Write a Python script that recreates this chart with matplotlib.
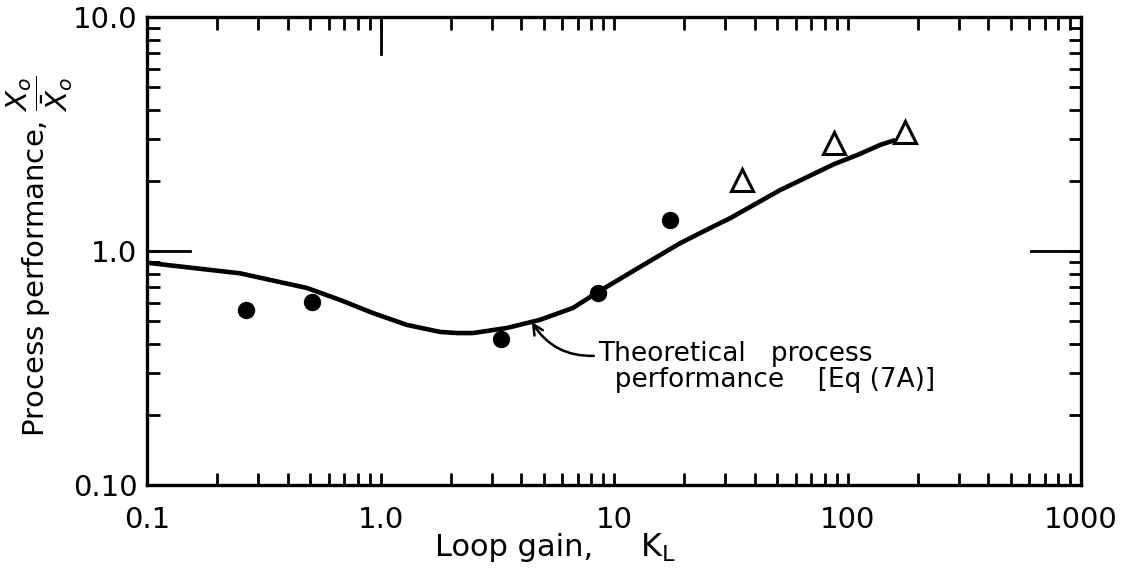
import matplotlib
matplotlib.use("Agg")
import matplotlib.pyplot as plt
from matplotlib.ticker import LogLocator, NullFormatter, FixedLocator, FixedFormatter

# Theoretical process performance, Eq (7A)
curve_gain = [0.1, 0.25, 0.484, 0.671, 0.928, 1.30, 1.80, 2.13, 2.49, 3.48, 4.82, 6.67,
              8.54, 12.9, 19.2, 26.5, 31.4, 51.4, 87.5, 110, 138, 160]
curve_perf = [0.891, 0.803, 0.695, 0.618, 0.543, 0.483, 0.451, 0.446, 0.446, 0.469, 0.508, 0.571,
              0.668, 0.854, 1.08, 1.27, 1.38, 1.82, 2.35, 2.57, 2.84, 2.98]

# Measured points
dot_gain = [0.265, 0.511, 3.28, 8.54, 17.4]
dot_perf = [0.560, 0.604, 0.421, 0.662, 1.357]
tri_gain = [35.2, 87.5, 176]
tri_perf = [2.01, 2.89, 3.22]

x_ticks = [0.1, 1.0, 10, 100, 1000]
x_labels = ["0.1", "1.0", "10", "100", "1000"]
y_ticks = [0.1, 1.0, 10.0]
y_labels = ["0.10", "1.0", "10.0"]

plt.rcParams["font.family"] = ["DejaVu Sans"]
plt.rcParams["mathtext.fontset"] = "dejavusans"

fig = plt.figure(figsize=(11.32, 5.76), dpi=100)
ax = fig.add_axes([147 / 1132, 91 / 576, 934 / 1132, 468 / 576])

ax.set_xscale("log")
ax.set_yscale("log")
ax.set_xlim(0.1, 1000)
ax.set_ylim(0.1, 10)

ax.plot(curve_gain, curve_perf, color="black", lw=3.3, solid_joinstyle="round",
        solid_capstyle="butt")
ax.plot(dot_gain, dot_perf, "o", color="black", ms=11.5)
ax.plot(tri_gain, tri_perf, "^", mfc="white", mec="black", mew=2.2, ms=15.5)

for s in ax.spines.values():
    s.set_linewidth(2.4)

ax.xaxis.set_major_locator(FixedLocator(x_ticks))
ax.xaxis.set_major_formatter(FixedFormatter(x_labels))
ax.yaxis.set_major_locator(FixedLocator(y_ticks))
ax.yaxis.set_major_formatter(FixedFormatter(y_labels))
ax.xaxis.set_minor_locator(LogLocator(base=10, subs=range(2, 10), numticks=20))
ax.yaxis.set_minor_locator(LogLocator(base=10, subs=range(2, 10), numticks=20))
ax.xaxis.set_minor_formatter(NullFormatter())
ax.yaxis.set_minor_formatter(NullFormatter())

ax.tick_params(which="both", direction="in", top=True, right=True, width=2.0,
               color="black", length=9)
ax.tick_params(axis="x", which="major", labelsize=21, pad=15)
ax.tick_params(axis="y", which="major", labelsize=21, pad=7)

# longer reference ticks at unity
ax.plot([0, 0.046], [0.5, 0.5], transform=ax.transAxes, color="black", lw=2.0, clip_on=False)
ax.plot([0.946, 1.0], [0.5, 0.5], transform=ax.transAxes, color="black", lw=2.0, clip_on=False)
ax.plot([0.25, 0.25], [1.0, 0.92], transform=ax.transAxes, color="black", lw=2.0, clip_on=False)

ax.annotate("Theoretical   process\n  performance    [Eq (7A)]",
            xy=(4.45, 0.497), xytext=(8.54, 0.319),
            fontsize=19, ha="left", va="center", linespacing=1.0,
            arrowprops=dict(arrowstyle="->", color="black", lw=1.8,
                            mutation_scale=18,
                            connectionstyle="arc3,rad=-0.3",
                            relpos=(0.0, 0.72),
                            shrinkA=1, shrinkB=0))

fig.text(435 / 1132, 1 - 548 / 576, "Loop gain,", fontsize=22, ha="left", va="center")
fig.text(640 / 1132, 1 - 548 / 576, r"K$_\mathregular{L}$", fontsize=23,
         ha="left", va="center")
fig.text(40 / 1132, 1 - 256 / 576,
         r"Process performance, $\dfrac{X_o}{\bar{X}_o}$",
         fontsize=21, rotation=90, ha="center", va="center")

fig.savefig("out.png", dpi=100, facecolor="white")
